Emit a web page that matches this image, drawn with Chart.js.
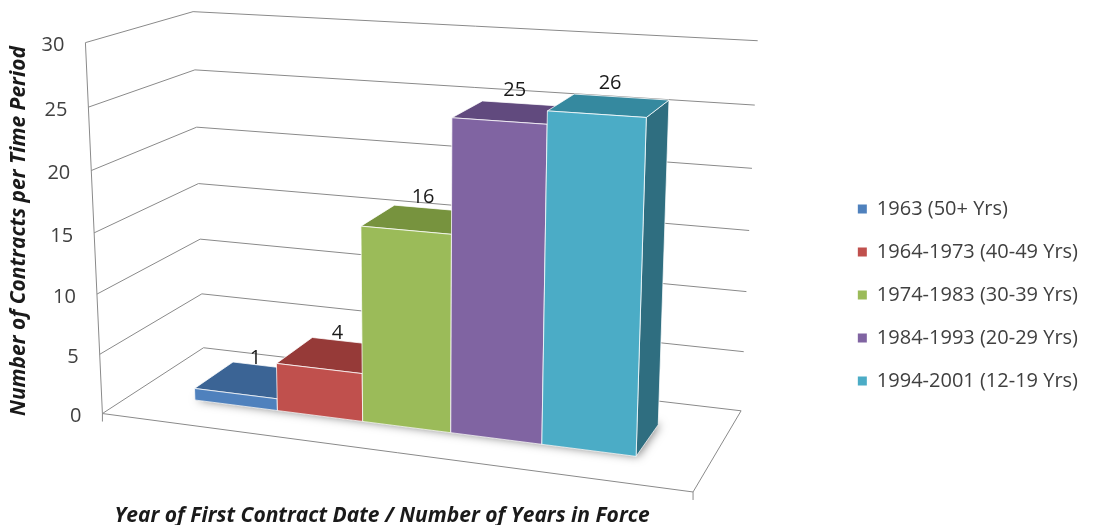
<!DOCTYPE html>
<html>
<head>
<meta charset="utf-8">
<script src="https://cdn.jsdelivr.net/npm/chart.js@4/dist/chart.umd.min.js"></script>
<style>
  html, body { margin: 0; padding: 0; background: #ffffff; }
  #wrap { width: 1094px; height: 525px; }
</style>
</head>
<body>
<div id="wrap"><canvas id="chart" width="1094" height="525"></canvas></div>
<script>
// ---- data ----
const periods = [
  '1963 (50+ Yrs)',
  '1964-1973 (40-49 Yrs)',
  '1974-1983 (30-39 Yrs)',
  '1984-1993 (20-29 Yrs)',
  '1994-2001 (12-19 Yrs)'
];
const contracts = [1, 4, 16, 25, 26];
const valueTicks = [0, 5, 10, 15, 20, 25, 30];
const yTitle = 'Number of Contracts per Time Period';
const xTitle = 'Year of First Contract Date / Number of Years in Force';

// ---- styles ----
const faceFront = ['#4F81BD', '#C0504D', '#9BBB59', '#8064A2', '#4BACC6'];
const faceTop   = ['#3B6495', '#963A38', '#77933E', '#614A7E', '#35899F'];
const faceSide  = ['#2F4F76', '#7A2E2C', '#5F7632', '#4D3A63', '#2F6E80'];
const GRID = '#8a8a8a';
const FONT = '"Open Sans", Lato, sans-serif';

// Perspective view of the plot box. Box coordinates are normalised:
// x across the category axis, y up the value axis, z from front to back.
const VIEW_ANCHORS = [
  [0, 0,   0, 103, 414],
  [0, 1,   0,  85,  43],
  [0, 0.5, 0,  94, 232],
  [0, 0,   1, 203, 348],
  [0, 1,   1, 193,  12],
  [0, 0.5, 1, 199, 183],
  [1, 1,   1, 758,  41],
  [1, 0.5, 1, 749, 230],
  [1, 0,   1, 741, 411],
  [1, 0,   0, 693, 492]
];
const BAR_DEPTH = [0.3, 0.7];

// Least-squares fit of a 3x4 projective camera (last entry fixed to 1).
function fitCamera(pairs) {
  const rows = [], rhs = [];
  pairs.forEach(([X, Y, Z, u, v]) => {
    rows.push([X, Y, Z, 1, 0, 0, 0, 0, -u * X, -u * Y, -u * Z]); rhs.push(u);
    rows.push([0, 0, 0, 0, X, Y, Z, 1, -v * X, -v * Y, -v * Z]); rhs.push(v);
  });
  const n = 11;
  const M = Array.from({ length: n }, () => new Array(n + 1).fill(0));
  rows.forEach((r, k) => {
    for (let i = 0; i < n; i++) {
      for (let j = 0; j < n; j++) M[i][j] += r[i] * r[j];
      M[i][n] += r[i] * rhs[k];
    }
  });
  for (let c = 0; c < n; c++) {
    let piv = c;
    for (let r = c + 1; r < n; r++) if (Math.abs(M[r][c]) > Math.abs(M[piv][c])) piv = r;
    [M[c], M[piv]] = [M[piv], M[c]];
    for (let r = 0; r < n; r++) {
      if (r === c) continue;
      const f = M[r][c] / M[c][c];
      for (let k = c; k <= n; k++) M[r][k] -= f * M[c][k];
    }
  }
  return M.map((row, i) => row[n] / row[i]);
}
const CAM = fitCamera(VIEW_ANCHORS);
function project(x, y, z) {
  const p = CAM;
  const w = p[8] * x + p[9] * y + p[10] * z + 1;
  return [(p[0] * x + p[1] * y + p[2] * z + p[3]) / w,
          (p[4] * x + p[5] * y + p[6] * z + p[7]) / w];
}

function pathPoly(ctx, pts, close) {
  ctx.beginPath();
  pts.forEach((p, i) => (i ? ctx.lineTo(p[0], p[1]) : ctx.moveTo(p[0], p[1])));
  if (close) ctx.closePath();
}

const perspectiveBars = {
  id: 'perspectiveBars',
  beforeDatasetsDraw(chart) {
    const ctx = chart.ctx;
    const ys = chart.scales.y;
    const area = chart.chartArea;
    const ny = v => (ys.getPixelForValue(0) - ys.getPixelForValue(v)) / (ys.bottom - ys.top);
    const nx = px => (px - area.left) / (area.right - area.left);

    ctx.save();
    // walls: gridlines run along the left wall and across the back wall
    ctx.strokeStyle = GRID;
    ctx.lineWidth = 1;
    valueTicks.forEach(v => {
      const y = ny(v);
      pathPoly(ctx, [project(0, y, 0), project(0, y, 1), project(1, y, 1)], false);
      ctx.stroke();
    });
    // value axis line and floor front/right edges
    pathPoly(ctx, [project(0, 1, 0), project(0, 0, 0), project(1, 0, 0), project(1, 0, 1)], false);
    ctx.stroke();
    // tick marks at the ends of the category axis
    [0, 1].forEach(x => {
      const p = project(x, 0, 0);
      ctx.beginPath(); ctx.moveTo(p[0], p[1]); ctx.lineTo(p[0], p[1] + 8); ctx.stroke();
    });

    // value tick labels
    ctx.fillStyle = '#404040';
    ctx.font = '20px ' + FONT;
    ctx.textAlign = 'right';
    ctx.textBaseline = 'middle';
    valueTicks.forEach(v => {
      const p = project(0, ny(v), 0);
      ctx.fillText(String(v), p[0] - 21, p[1] + 3);
    });

    // gather bar geometry from the bar elements
    const [z0, z1] = BAR_DEPTH;
    const bars = chart.data.datasets.map((ds, i) => {
      const el = chart.getDatasetMeta(i).data[0];
      const { x, y, width } = el.getProps(['x', 'y', 'width'], true);
      return { i, x0: nx(x - width / 2), x1: nx(x + width / 2), yt: ny(ys.getValueForPixel(y)), value: ds.data[0] };
    });

    // soft shadow under the bars
    const minX = Math.min(...bars.map(b => b.x0));
    const maxX = Math.max(...bars.map(b => b.x1));
    ctx.save();
    ctx.shadowColor = 'rgba(0,0,0,0.5)';
    ctx.shadowBlur = 10;
    ctx.shadowOffsetX = 2;
    ctx.fillStyle = 'rgba(90,90,90,1)';
    pathPoly(ctx, [project(minX, 0, z0), project(maxX, 0, z0),
                   project(maxX, 0, z1), project(minX, 0, z1)], true);
    ctx.fill();
    ctx.restore();

    // bars, drawn left to right (the view looks from the right)
    ctx.lineWidth = 1;
    ctx.strokeStyle = 'rgba(255,255,255,0.75)';
    bars.forEach(b => {
      const { x0, x1, yt } = b;
      const front = [project(x0, 0, z0), project(x1, 0, z0), project(x1, yt, z0), project(x0, yt, z0)];
      const top   = [project(x0, yt, z0), project(x1, yt, z0), project(x1, yt, z1), project(x0, yt, z1)];
      const side  = [project(x1, 0, z0), project(x1, 0, z1), project(x1, yt, z1), project(x1, yt, z0)];
      ctx.fillStyle = faceSide[b.i];
      pathPoly(ctx, side, true); ctx.fill(); ctx.stroke();
      ctx.fillStyle = faceTop[b.i];
      pathPoly(ctx, top, true); ctx.fill(); ctx.stroke();
      ctx.fillStyle = faceFront[b.i];
      pathPoly(ctx, front, true); ctx.fill(); ctx.stroke();
    });

    // value labels above each bar
    ctx.fillStyle = '#1a1a1a';
    ctx.font = '20px ' + FONT;
    ctx.textAlign = 'center';
    ctx.textBaseline = 'alphabetic';
    bars.forEach(b => {
      const p = project((b.x0 + b.x1) / 2, b.yt, (z0 + z1) / 2);
      ctx.fillText(String(b.value), p[0] + 1, p[1] - 16);
    });

    // axis titles
    ctx.fillStyle = '#1a1a1a';
    ctx.font = 'italic bold 21px ' + FONT;
    ctx.textAlign = 'center';
    ctx.textBaseline = 'middle';
    ctx.fillText(xTitle, 382, 516);
    ctx.translate(19, 231);
    ctx.rotate(-Math.PI / 2);
    ctx.fillText(yTitle, 0, 0);
    ctx.restore();
    return false;
  }
};

new Chart(document.getElementById('chart'), {
  type: 'bar',
  data: {
    labels: [''],
    datasets: periods.map((name, i) => ({
      label: name,
      data: [contracts[i]],
      backgroundColor: faceFront[i],
      borderWidth: 0
    }))
  },
  options: {
    responsive: false,
    animation: false,
    events: [],
    devicePixelRatio: 1,
    layout: { padding: { top: 65, right: 6, left: 0, bottom: 0 } },
    datasets: { bar: { barPercentage: 1, categoryPercentage: 0.77 } },
    scales: {
      x: { display: false },
      y: { display: false, min: 0, max: 30, ticks: { stepSize: 5 } }
    },
    plugins: {
      tooltip: { enabled: false },
      legend: {
        position: 'right',
        labels: {
          boxWidth: 9,
          boxHeight: 9,
          padding: 23,
          color: '#404040',
          font: { family: FONT, size: 20 }
        }
      }
    }
  },
  plugins: [perspectiveBars]
});
</script>
</body>
</html>
